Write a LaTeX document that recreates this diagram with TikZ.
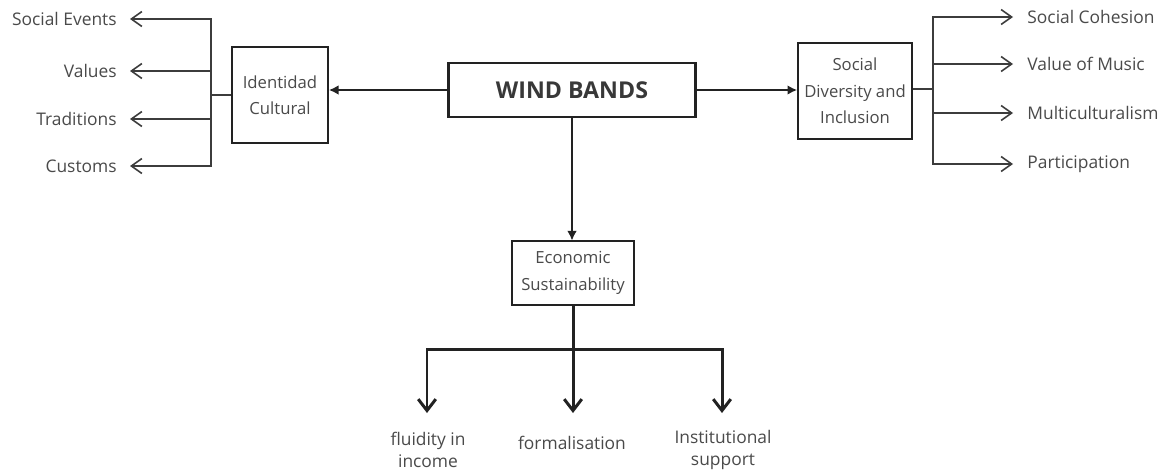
\documentclass[tikz,border=0pt]{standalone}
\usepackage{fontspec}
\setmainfont{Open Sans}
\usetikzlibrary{arrows.meta}
\definecolor{ink}{HTML}{222222}
\definecolor{txt}{HTML}{4A4A4A}
\definecolor{brc}{HTML}{3C3C3C}
\begin{document}
\begin{tikzpicture}[x=0.02cm,y=-0.02cm,
  box/.style={draw=ink,line width=1.2pt,inner sep=0pt,align=center,text=txt,
    font=\fontsize{9.5}{15}\selectfont},
  lab/.style={text=txt,font=\fontsize{9.9}{11}\selectfont,inner sep=0pt},
  labl/.style={lab,anchor=east,inner xsep=7.4pt},
  labr/.style={lab,anchor=west,inner xsep=8pt},
  labb/.style={lab,align=center,font=\fontsize{9.9}{13}\selectfont},
  mainarr/.style={draw=ink,line width=1.1pt,-{Latex[length=5.5pt,width=5.5pt]}},
  br/.style={draw=brc,line width=0.9pt,-{Straight Barb[length=6pt,width=8.5pt]}},
  brline/.style={draw=brc,line width=0.9pt},
  botline/.style={draw=ink,line width=1.7pt},
  botarr/.style={draw=ink,line width=1.7pt,-{Straight Barb[length=6.5pt,width=10pt]}}]
\useasboundingbox (0,0) rectangle (1163,474);
\fill[white] (0,0) rectangle (1163,474);

% boxes
\node[box,minimum width=248*0.5669pt,minimum height=54*0.5669pt,
  font=\fontsize{13.2}{15}\bfseries,text=ink!90] (wb) at (572,90) {WIND BANDS};
\node[box,minimum width=96*0.5669pt,minimum height=96*0.5669pt] (ic) at (280,95) {Identidad\\Cultural};
\node[box,minimum width=114*0.5669pt,minimum height=96*0.5669pt] (sd) at (855,91) {Social\\Diversity and\\Inclusion};
\node[box,minimum width=123*0.5669pt,minimum height=65*0.5669pt] (es) at (573,273) {Economic\\Sustainability};

% main arrows
\draw[mainarr] (wb.west) -- (wb.west -| ic.east);
\draw[mainarr] (wb.east) -- (wb.east -| sd.west);
\draw[mainarr] (wb.south) -- ([yshift=-0.6pt]wb.south |- es.north);

% left labels
\node[labl] (se) at (130,19) {Social Events};
\node[labl] (va) at (130,71) {Values};
\node[labl] (tr) at (130,119) {Traditions};
\node[labl] (cu) at (130,166) {Customs};
\coordinate (lj) at (211,95);
\draw[brline] (ic.west) -- (lj);
\foreach \n in {se,va,tr,cu} \draw[br] (lj) |- (\n.east);

% right labels
\node[labr] (sc) at (1013,17) {Social Cohesion};
\node[labr] (vm) at (1013,64) {Value of Music};
\node[labr] (mu) at (1013,113) {Multiculturalism};
\node[labr] (pa) at (1013,164) {Participation};
\coordinate (rj) at (933,89);
\draw[brline] (sd.east |- rj) -- (rj);
\foreach \n in {sc,vm,mu,pa} \draw[br] (rj) |- (\n.west);

% bottom
\coordinate (bj) at (573,349);
\coordinate (b1) at (427,413);
\coordinate (b2) at (573,413);
\coordinate (b3) at (722,413);
\draw[botline] (es.south) -- (bj);
\draw[botarr] (bj) -| (b1);
\draw[botarr] (bj) -- (b2);
\draw[botarr] (bj) -| (b3);
\node[labb] (fi) at (428,450) {fluidity in\\income};
\node[labb] (fo) at (572,443) {formalisation};
\node[labb] (in) at (723,450) {Institutional\\support};
\end{tikzpicture}
\end{document}
